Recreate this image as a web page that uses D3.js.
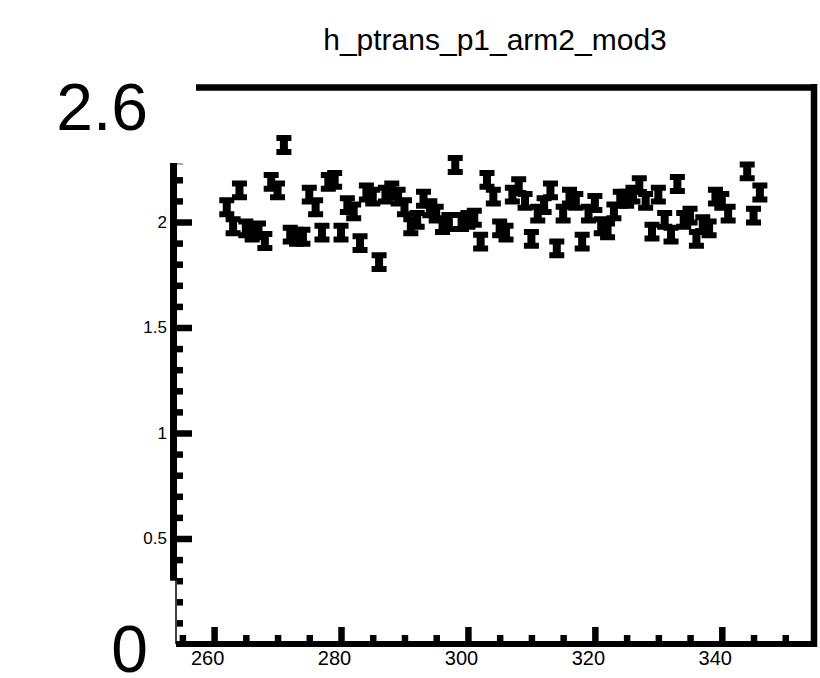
<!DOCTYPE html>
<html>
<head>
<meta charset="utf-8">
<script src="https://cdn.jsdelivr.net/npm/d3@7"></script>
<style>
  body { margin: 0; background: #fff; }
  svg { display: block; font-family: "Liberation Sans", Arial, Helvetica, sans-serif; }
  .tick line { stroke: #000; }
</style>
</head>
<body>
<svg></svg>
<script>
const runs = [
  262, 263, 264, 265, 266, 267, 268, 269, 270, 271,
  272, 273, 274, 275, 276, 277, 278, 279, 280, 281,
  282, 283, 284, 285, 286, 287, 288, 289, 290, 291,
  292, 293, 294, 295, 296, 297, 298, 299, 300, 301,
  302, 303, 304, 305, 306, 307, 308, 309, 310, 311,
  312, 313, 314, 315, 316, 317, 318, 319, 320, 321,
  322, 323, 324, 325, 326, 327, 328, 329, 330, 331,
  332, 333, 334, 335, 336, 337, 338, 339, 340, 341,
  344, 345, 346
];
const values = [
  2.07, 1.98, 2.15, 1.97, 1.95, 1.96, 1.91, 2.19, 2.15, 2.365,
  1.94, 1.93, 1.93, 2.13, 2.07, 1.95, 2.19, 2.2, 1.95, 2.08,
  2.05, 1.9, 2.14, 2.12, 1.81, 2.13, 2.15, 2.12, 2.07, 1.98,
  2.01, 2.11, 2.065, 2.04, 1.985, 2.0, 2.27, 2.0, 2.01, 2.02,
  1.907, 2.2, 2.12, 1.97, 1.95, 2.13, 2.17, 2.1, 1.92, 2.04,
  2.08, 2.15, 1.875, 2.04, 2.12, 2.1, 1.907, 2.04, 2.09, 1.98,
  1.96, 2.05, 2.11, 2.11, 2.13, 2.175, 2.1, 1.954, 2.13, 2.01,
  1.94, 2.18, 2.01, 2.03, 1.92, 1.99, 1.97, 2.12, 2.1, 2.04,
  2.24, 2.03, 2.14
];
const yErr = 0.047;

const title = "h_ptrans_p1_arm2_mod3";
const xMajorTicks = [260, 280, 300, 320, 340];
const xMinorTicks = d3.range(255, 355, 5).filter((v) => v % 20 !== 0);
const yMajorTicks = [0.5, 1, 1.5, 2];
const yMinorTicks = d3.range(1, 23).map((i) => i / 10).filter((v) => !yMajorTicks.includes(v));
const bigLabels = [2.6, 0];

const svg = d3.select("svg");
const width = 820;
const height = 678;
svg.attr("width", width).attr("height", height);

const xScale = d3.scaleLinear().domain([254, 355]).range([176, 817]);
const yScale = d3.scaleLinear().domain([0, 2.6]).range([644, 95.4]);

// frame: top and right borders
const frame = svg.append("g");
frame.append("line")
  .attr("x1", 196).attr("x2", 817)
  .attr("y1", 87.5).attr("y2", 87.5)
  .attr("stroke", "#000").attr("stroke-width", 6.5);
frame.append("line")
  .attr("x1", 814).attr("x2", 814)
  .attr("y1", 84).attr("y2", 647)
  .attr("stroke", "#000").attr("stroke-width", 6.5);

// x axis: ticks point up into the frame
const xAxisMinor = d3.axisBottom(xScale).tickValues(xMinorTicks).tickSize(-6).tickFormat("");
const xAxisMajor = d3.axisBottom(xScale).tickValues(xMajorTicks).tickSize(-14).tickPadding(0)
  .tickFormat(d3.format("d"));

const xAxisG = svg.append("g").attr("transform", `translate(0, 641)`);
xAxisG.append("g").call(xAxisMinor).call((g) => g.select(".domain").remove());
const xMajorG = xAxisG.append("g").call(xAxisMajor).call((g) => g.select(".domain").remove());
xAxisG.selectAll(".tick line").attr("stroke-width", 6.5);
xMajorG.selectAll(".tick text")
  .attr("y", 24)
  .attr("dy", 0)
  .attr("x", -7)
  .attr("fill", "#000")
  .attr("font-size", 20);
svg.append("line")
  .attr("x1", 176).attr("x2", 817)
  .attr("y1", 644).attr("y2", 644)
  .attr("stroke", "#000").attr("stroke-width", 6);

// y axis: thin full line, thick part from 0.3 upwards
const yAxisG = svg.append("g").attr("transform", `translate(177, 0)`);
const yAxisMinor = d3.axisLeft(yScale).tickValues(yMinorTicks).tickSize(-6).tickFormat("");
const yAxisMajor = d3.axisLeft(yScale).tickValues(yMajorTicks).tickSize(-15).tickPadding(10)
  .tickFormat((d) => String(d));
yAxisG.append("g").call(yAxisMinor).call((g) => g.select(".domain").remove());
const yMajorG = yAxisG.append("g").call(yAxisMajor).call((g) => g.select(".domain").remove());
yAxisG.selectAll(".tick line").attr("stroke-width", 6.5);
yMajorG.selectAll(".tick text")
  .attr("fill", "#000")
  .attr("font-size", 17);

svg.append("line")
  .attr("x1", 176).attr("x2", 176)
  .attr("y1", 163).attr("y2", 644)
  .attr("stroke", "#000").attr("stroke-width", 1.5);
svg.append("rect")
  .attr("x", 170).attr("width", 7)
  .attr("y", 163).attr("height", yScale(0.3) - 163)
  .attr("fill", "#000");
svg.append("line")
  .attr("x1", 177).attr("x2", 183)
  .attr("y1", 164).attr("y2", 164)
  .attr("stroke", "#aaa").attr("stroke-width", 2);

// big range labels on the left
svg.append("g")
  .selectAll("text")
  .data(bigLabels)
  .join("text")
  .attr("x", 148)
  .attr("y", (d) => Math.min(yScale(d) + 35, 672))
  .attr("text-anchor", "end")
  .attr("font-size", 66)
  .attr("fill", "#000")
  .text((d) => String(d));

// points drawn as error bars with wide end caps
const points = runs.map((r, i) => ({ x: r, y: values[i] }));
const capW = 15;
const capH = 6;
const stemW = 8;
const pts = svg.append("g").attr("fill", "#000");
pts.selectAll("path")
  .data(points)
  .join("path")
  .attr("d", (d) => {
    const cx = xScale(d.x);
    const top = yScale(d.y + yErr);
    const bot = yScale(d.y - yErr);
    const n = (capW - stemW) / 2;
    return `M${cx - capW / 2},${top}h${capW}v${capH}h${-n}` +
      `V${bot - capH}h${n}v${capH}h${-capW}v${-capH}` +
      `h${n}V${top + capH}h${-n}Z`;
  });

// title
svg.append("text")
  .attr("x", 495)
  .attr("y", 50)
  .attr("text-anchor", "middle")
  .attr("font-size", 30)
  .attr("fill", "#000")
  .text(title);
</script>
</body>
</html>
